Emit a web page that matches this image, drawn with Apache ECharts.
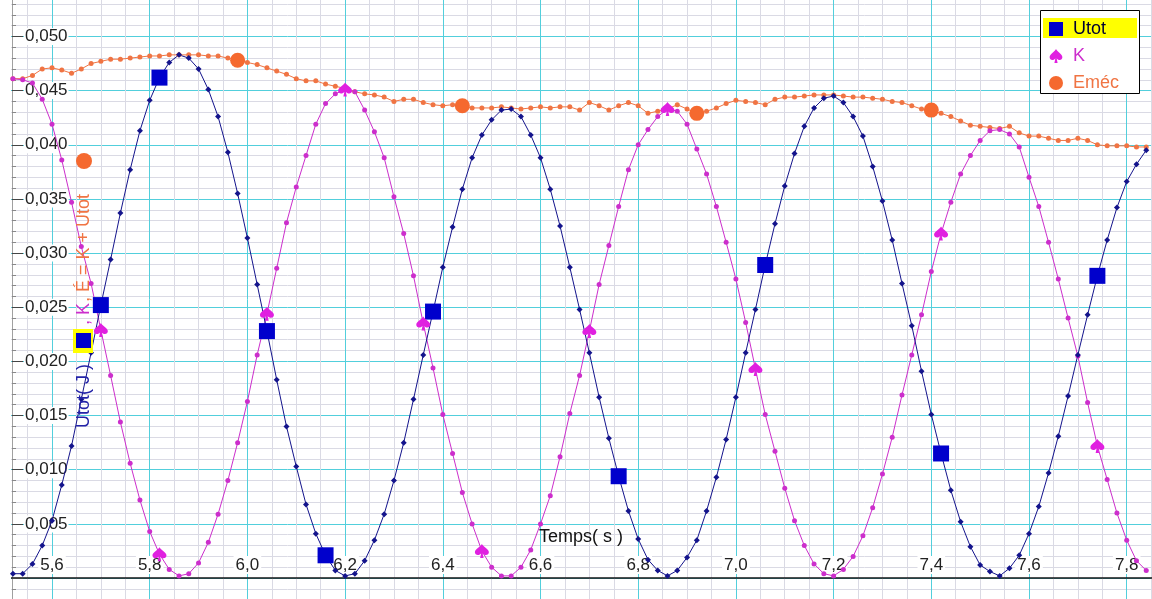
<!DOCTYPE html>
<html>
<head>
<meta charset="utf-8">
<script src="https://cdn.jsdelivr.net/npm/echarts@6/dist/echarts.min.js"></script>
<style>
html,body{margin:0;padding:0;background:#fff;}
#c{width:1152px;height:599px;}
</style>
</head>
<body>
<div id="c"></div>
<script>
// ---- data ----
const time = [
5.52,5.54,5.56,5.58,5.60,5.62,5.64,5.66,5.68,5.70,
5.72,5.74,5.76,5.78,5.80,5.82,5.84,5.86,5.88,5.90,
5.92,5.94,5.96,5.98,6.00,6.02,6.04,6.06,6.08,6.10,
6.12,6.14,6.16,6.18,6.20,6.22,6.24,6.26,6.28,6.30,
6.32,6.34,6.36,6.38,6.40,6.42,6.44,6.46,6.48,6.50,
6.52,6.54,6.56,6.58,6.60,6.62,6.64,6.66,6.68,6.70,
6.72,6.74,6.76,6.78,6.80,6.82,6.84,6.86,6.88,6.90,
6.92,6.94,6.96,6.98,7.00,7.02,7.04,7.06,7.08,7.10,
7.12,7.14,7.16,7.18,7.20,7.22,7.24,7.26,7.28,7.30,
7.32,7.34,7.36,7.38,7.40,7.42,7.44,7.46,7.48,7.50,
7.52,7.54,7.56,7.58,7.60,7.62,7.64,7.66,7.68,7.70,
7.72,7.74,7.76,7.78,7.80,7.82,7.84
];
const utot = [
0.0004,0.0004,0.0013,0.0030,0.0053,0.0086,0.0122,0.0165,0.0208,0.0252,
0.0294,0.0337,0.0377,0.0413,0.0441,0.0462,0.0476,0.0483,0.0480,0.0470,
0.0451,0.0426,0.0393,0.0355,0.0314,0.0271,0.0228,0.0183,0.0140,0.0103,
0.0068,0.0041,0.0021,0.0007,0.0002,0.0004,0.0016,0.0035,0.0059,0.0090,
0.0125,0.0165,0.0206,0.0246,0.0287,0.0324,0.0359,0.0388,0.0409,0.0423,
0.0432,0.0433,0.0426,0.0409,0.0388,0.0359,0.0325,0.0287,0.0248,0.0208,
0.0167,0.0129,0.0094,0.0062,0.0036,0.0017,0.0007,0.0002,0.0007,0.0019,
0.0035,0.0062,0.0093,0.0128,0.0167,0.0208,0.0248,0.0289,0.0327,0.0362,
0.0392,0.0417,0.0434,0.0443,0.0445,0.0439,0.0426,0.0408,0.0380,0.0348,
0.0312,0.0272,0.0233,0.0191,0.0151,0.0115,0.0081,0.0052,0.0029,0.0012,
0.0006,0.0002,0.0009,0.0021,0.0041,0.0066,0.0097,0.0131,0.0168,0.0206,
0.0243,0.0279,0.0312,0.0342,0.0366,0.0382,0.0395
];
const kin = [
0.0461,0.0460,0.0457,0.0442,0.0419,0.0386,0.0347,0.0306,0.0272,0.0229,
0.0187,0.0144,0.0106,0.0072,0.0043,0.0022,0.0008,0.0002,0.0004,0.0014,
0.0033,0.0059,0.0090,0.0125,0.0163,0.0206,0.0244,0.0286,0.0328,0.0361,
0.0390,0.0419,0.0438,0.0447,0.0451,0.0449,0.0432,0.0412,0.0388,0.0352,
0.0318,0.0279,0.0235,0.0194,0.0151,0.0115,0.0079,0.0050,0.0025,0.0010,
0.0002,0.0002,0.0010,0.0026,0.0050,0.0076,0.0112,0.0152,0.0187,0.0228,
0.0271,0.0307,0.0343,0.0377,0.0400,0.0414,0.0426,0.0433,0.0431,0.0419,
0.0396,0.0373,0.0343,0.0310,0.0276,0.0236,0.0193,0.0151,0.0117,0.0083,
0.0053,0.0030,0.0013,0.0004,0.0002,0.0008,0.0020,0.0039,0.0065,0.0096,
0.0130,0.0169,0.0206,0.0243,0.0283,0.0318,0.0347,0.0373,0.0390,0.0404,
0.0413,0.0414,0.0410,0.0398,0.0370,0.0343,0.0310,0.0276,0.0240,0.0205,
0.0162,0.0122,0.0091,0.0060,0.0035,0.0016,0.0007
];
const emec = [
0.0461,0.0461,0.0464,0.0470,0.0471,0.0469,0.0466,0.0470,0.0475,0.0477,
0.0479,0.0479,0.0480,0.0481,0.0482,0.0482,0.0483,0.0483,0.0483,0.0483,
0.0482,0.0482,0.0480,0.0478,0.0476,0.0474,0.0471,0.0468,0.0465,0.0461,
0.0459,0.0459,0.0456,0.0454,0.0452,0.0449,0.0447,0.0446,0.0444,0.0440,
0.0442,0.0442,0.0439,0.0437,0.0436,0.0437,0.0436,0.0434,0.0434,0.0434,
0.0435,0.0434,0.0433,0.0434,0.0435,0.0434,0.0435,0.0435,0.0432,0.0439,
0.0436,0.0432,0.0436,0.0439,0.0436,0.0429,0.0431,0.0433,0.0437,0.0433,
0.0429,0.0431,0.0434,0.0438,0.0441,0.0440,0.0439,0.0437,0.0442,0.0444,
0.0444,0.0445,0.0446,0.0446,0.0446,0.0445,0.0444,0.0444,0.0443,0.0442,
0.0440,0.0439,0.0436,0.0433,0.0432,0.0429,0.0426,0.0422,0.0418,0.0417,
0.0416,0.0415,0.0417,0.0411,0.0408,0.0408,0.0406,0.0404,0.0404,0.0406,
0.0404,0.0400,0.0399,0.0399,0.0399,0.0398,0.0398
];
// indices of the samples carrying the big markers
const utotMarks = [9,15,26,32,43,62,77,95,111];
const kinMarks  = [9,15,26,34,42,48,59,67,76,95,111];
const emecMarks = [23,46,70,94];

const names = {u:'Utot', k:'K', e:'Eméc'};
const yTitle = {u:'Utot( J )', k:', K', e:', É = K + Utot'};
const xTitle = 'Temps( s )';

// ---- styling ----
const FONT = '"Liberation Sans", Arial, sans-serif';
const C_U_LINE = '#14148C', C_U_MARK = '#0000CC';
const C_K = '#CC2ECC', C_K_MARK = '#E020E0';
const C_E = '#F07443', C_E_MARK = '#F5692F';
const CYAN = '#52CFDC', MINOR = '#DADAE4';
const SPADE = 'path://M12,1 C10,5 2,9 2,14 C2,17.5 5.5,19.5 9,17.5 C9.8,17 10.5,16.3 11,15.5 L9.5,23 L14.5,23 L13,15.5 C13.5,16.3 14.2,17 15,17.5 C18.5,19.5 22,17.5 22,14 C22,9 14,5 12,1 Z';

const lineData = arr => time.map((t, i) => [t, arr[i]]);
const markData = (arr, idx) => idx.map(i => [time[i], arr[i]]);

const chart = echarts.init(document.getElementById('c'), null, {renderer: 'canvas'});
const txt = (t, x, y, color, rot) => ({
  type: 'text', x: x, y: y, rotation: rot || 0, z: 6, silent: true,
  style: {text: t, fill: color, font: '18px ' + FONT,
          textAlign: 'left', textVerticalAlign: 'middle', align: 'left', verticalAlign: 'middle'}
});

chart.setOption({
  animation: false,
  backgroundColor: '#fff',
  grid: {left: -45.7, right: -72.4, top: -17.7, bottom: -33.2, containLabel: false, outerBoundsMode: 'none'},
  xAxis: {
    type: 'value', min: 5.4, max: 8.0, interval: 0.2, position: 'bottom', offset: -54.2,
    axisLine: {show: true, onZero: false, lineStyle: {color: '#151515', width: 1.5}},
    axisTick: {show: false},
    minorTick: {show: false, splitNumber: 4},
    axisLabel: {show: true, inside: true, margin: 4, fontSize: 17, fontFamily: FONT, color: '#222',
      backgroundColor: '#fff', padding: [1, 2, 0, 2], hideOverlap: false,
      formatter: v => v.toFixed(1).replace('.', ',')},
    splitLine: {show: true, lineStyle: {color: CYAN, width: 1}},
    minorSplitLine: {show: true, lineStyle: {color: MINOR, width: 1}}
  },
  yAxis: {
    type: 'value', min: -0.005, max: 0.055, interval: 0.005, offset: -57.7,
    axisLine: {show: true, onZero: false, lineStyle: {color: '#a0a0a0', width: 1}},
    axisTick: {show: true, inside: true, length: 11, lineStyle: {color: '#444'}},
    minorTick: {show: true, splitNumber: 5, length: 4, lineStyle: {color: '#888'}},
    axisLabel: {inside: true, margin: 12, fontSize: 17, fontFamily: FONT, color: '#222',
      backgroundColor: '#fff', padding: [0, 1, 0, 1], showMaxLabel: false,
      formatter: v => (v < 0.0001 ? '' : v.toFixed(3).replace('.', ','))},
    splitLine: {show: true, lineStyle: {color: CYAN, width: 1}},
    minorSplitLine: {show: true, lineStyle: {color: MINOR, width: 1}}
  },
  legend: {
    left: 1040, top: 10, orient: 'vertical', z: 8, selectedMode: false,
    padding: [10, 6, 7, 9], itemGap: 9, itemWidth: 14, itemHeight: 14,
    textStyle: {fontSize: 18, fontFamily: FONT, padding: [0, 0, 0, 5]},
    data: [
      {name: names.u, textStyle: {color: '#000033'}},
      {name: names.k, textStyle: {color: C_K}},
      {name: names.e, textStyle: {color: C_E}}
    ]
  },
  series: [
    {name: names.e + ' ', type: 'line', data: lineData(emec), symbol: 'circle', symbolSize: 5,
      showSymbol: true, showAllSymbol: true, lineStyle: {color: C_E, width: 1}, itemStyle: {color: C_E}, z: 2},
    {name: names.k + ' ', type: 'line', data: lineData(kin), symbol: 'circle', symbolSize: 5,
      showSymbol: true, showAllSymbol: true, lineStyle: {color: C_K, width: 1}, itemStyle: {color: C_K}, z: 2},
    {name: names.u + ' ', type: 'line', data: lineData(utot), symbol: 'diamond', symbolSize: 6,
      showSymbol: true, showAllSymbol: true, lineStyle: {color: C_U_LINE, width: 1}, itemStyle: {color: C_U_LINE}, z: 2},
    {name: names.u, type: 'scatter', data: markData(utot, utotMarks), symbol: 'rect', symbolSize: 16,
      itemStyle: {color: C_U_MARK, opacity: 1}, z: 3},
    {name: names.k, type: 'scatter', data: markData(kin, kinMarks), symbol: SPADE, symbolSize: 14,
      itemStyle: {color: C_K_MARK, opacity: 1}, z: 3},
    {name: names.e, type: 'scatter', data: markData(emec, emecMarks), symbol: 'circle', symbolSize: 15,
      itemStyle: {color: C_E_MARK, opacity: 1}, z: 3}
  ],
  graphic: {elements: [
    {type: 'rect', z: 1, silent: true, shape: {x: 0, y: 0, width: 11, height: 599}, style: {fill: '#fff'}},
    {type: 'rect', z: 5, silent: true, shape: {x: 1040.5, y: 10.5, width: 99, height: 83},
      style: {fill: '#fff', stroke: '#000', lineWidth: 1}},
    {type: 'rect', z: 6, silent: true, shape: {x: 1043, y: 18, width: 94, height: 20}, style: {fill: '#FFFF00'}},
    txt(xTitle, 539, 537, '#111', 0),
    txt(yTitle.u, 84, 428, '#2323A8', Math.PI / 2),
    {type: 'rect', z: 6, silent: true, shape: {x: 73, y: 329, width: 20, height: 24}, style: {fill: '#FFFF00'}},
    {type: 'rect', z: 7, silent: true, shape: {x: 76, y: 333, width: 15, height: 15}, style: {fill: C_U_MARK}},
    txt(yTitle.k, 84, 325, C_K, Math.PI / 2),
    txt(yTitle.e, 84, 302, C_E, Math.PI / 2),
    {type: 'circle', z: 6, silent: true, shape: {cx: 84, cy: 161, r: 8}, style: {fill: C_E_MARK}}
  ]}
});
</script>
</body>
</html>
